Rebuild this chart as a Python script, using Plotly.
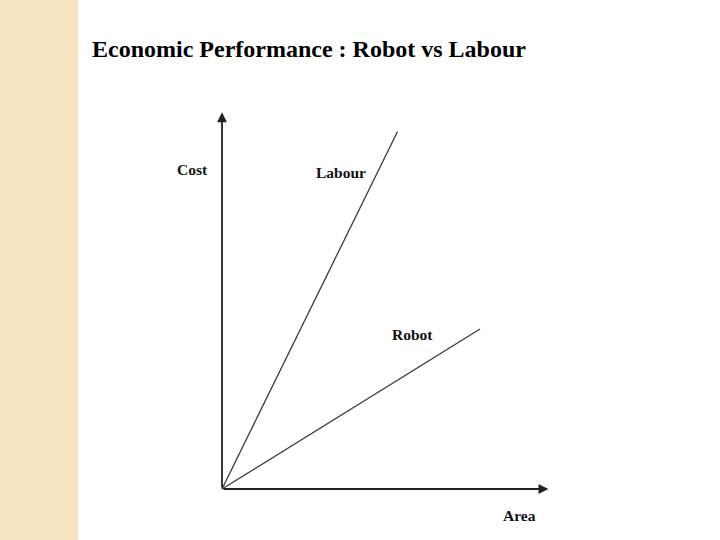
import plotly.graph_objects as go

# ── Data ──────────────────────────────────────────────────────────────────────
labour_area = [0, 6.8]
labour_cost = [0, 13.85]
robot_area = [0, 10.0]
robot_cost = [0, 6.2]

area_max = 12.65
cost_max = 14.6

title = "Economic Performance : Robot vs Labour"
serif = "Liberation Serif, Times New Roman, serif"

# ── Figure ────────────────────────────────────────────────────────────────────
fig = go.Figure()
line = dict(color="#3a3a3a", width=1.3)
fig.add_scatter(x=labour_area, y=labour_cost, mode="lines", line=line, showlegend=False)
fig.add_scatter(x=robot_area, y=robot_cost, mode="lines", line=line, showlegend=False)

# axes drawn as arrows from the origin
arrow = dict(showarrow=True, arrowhead=2, arrowsize=1.1, arrowwidth=1.8,
             arrowcolor="#222", axref="x", ayref="y", ax=0, ay=0, text="")
fig.add_annotation(x=area_max, y=0, **arrow)
fig.add_annotation(x=0, y=cost_max, **arrow)

lab = dict(showarrow=False, font=dict(family=serif, size=15.5, color="#111"))
fig.add_annotation(x=-1.16, y=12.4, text="<b>Cost</b>", **lab)
fig.add_annotation(x=4.61, y=12.25, text="<b>Labour</b>", **lab)
fig.add_annotation(x=7.4, y=5.97, text="<b>Robot</b>", **lab)
fig.add_annotation(x=11.55, y=-1.01, text="<b>Area</b>", **lab)

# slide title and left decorative strip
fig.add_annotation(xref="paper", yref="paper", x=90/720, y=1 - 49/540,
                   xanchor="left", yanchor="middle", showarrow=False,
                   text=f"<b>{title}</b>", font=dict(family=serif, size=24, color="#000"))
fig.add_shape(type="rect", xref="paper", yref="paper", x0=0, x1=78/720, y0=0, y1=1,
              fillcolor="#F5E3C1", line_width=0, layer="below")

s = 25.8  # px per unit
fig.update_xaxes(range=[-222/s, (720-222)/s], visible=False, domain=[0, 1])
fig.update_yaxes(range=[-51/s, (540-51)/s], visible=False, domain=[0, 1])
fig.update_layout(width=720, height=540, margin=dict(l=0, r=0, t=0, b=0),
                  plot_bgcolor="white", paper_bgcolor="white")
fig.write_html("out.html", config={"displayModeBar": False},
               post_script="document.body.style.margin='0';")
